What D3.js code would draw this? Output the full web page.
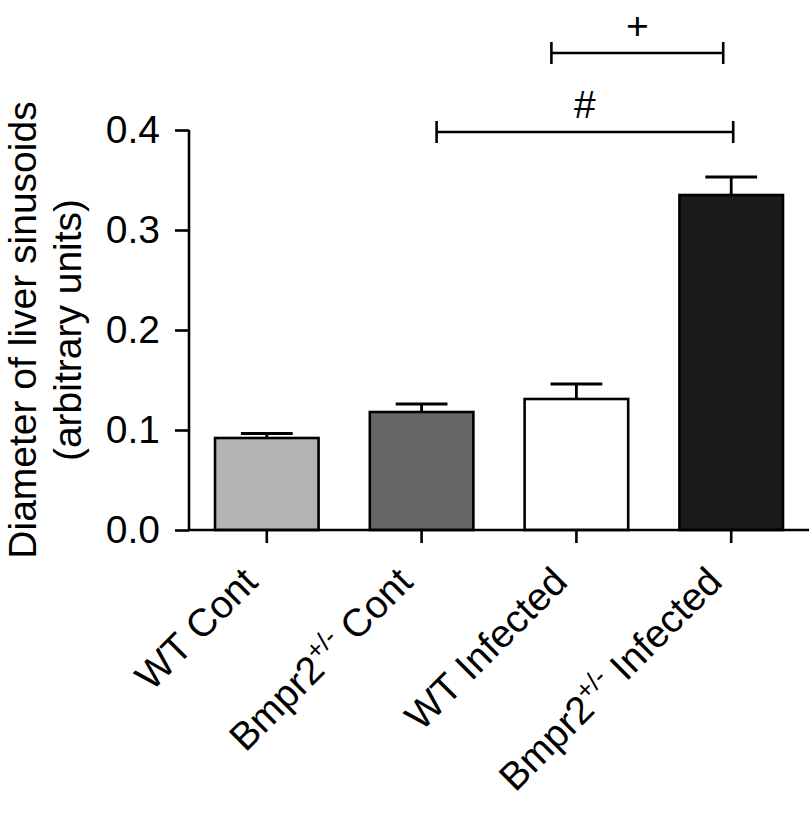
<!DOCTYPE html>
<html>
<head>
<meta charset="utf-8">
<script src="https://cdn.jsdelivr.net/npm/d3@7"></script>
<style>
  html, body { margin: 0; padding: 0; background: #ffffff; }
  svg { display: block; }
  text { font-family: "Liberation Sans", Arial, Helvetica, sans-serif; fill: #000; }
</style>
</head>
<body>
<div id="chart"></div>
<script>
// ---- Data ----
const categories = ["WT Cont", "Bmpr2+/- Cont", "WT Infected", "Bmpr2+/- Infected"];
const means = [0.092, 0.118, 0.131, 0.335];
const errors = [0.0045, 0.008, 0.015, 0.018];
const barColors = ["#b3b3b3", "#676767", "#ffffff", "#1b1b1b"];
const yTicks = [0.0, 0.1, 0.2, 0.3, 0.4];
const yTitleLines = ["Diameter of liver sinusoids", "(arbitrary units)"];
const brackets = [
  { label: "#", from: "Bmpr2+/- Cont", to: "Bmpr2+/- Infected", level: 0.398 },
  { label: "+", from: "WT Infected", to: "Bmpr2+/- Infected", level: 0.477 }
];

// ---- Layout ----
const W = 810, H = 815;
const FONT = 39;
const svg = d3.select("#chart").append("svg").attr("width", W).attr("height", H);
svg.append("rect").attr("width", W).attr("height", H).attr("fill", "#fff");

const x = d3.scaleBand().domain(categories).range([189, 809]).paddingInner(0.331).paddingOuter(0.168);
const y = d3.scaleLinear().domain([0, 0.4]).range([530, 130]);
const bw = x.bandwidth();
const cx = c => x(c) + bw / 2;

// bars
svg.append("g").selectAll("rect").data(categories).join("rect")
  .attr("x", c => x(c))
  .attr("y", (c, i) => y(means[i]))
  .attr("width", bw)
  .attr("height", (c, i) => y(0) - y(means[i]))
  .attr("fill", (c, i) => barColors[i])
  .attr("stroke", "#000")
  .attr("stroke-width", 2.6);

// error bars (upper only)
const eg = svg.append("g").attr("stroke", "#000").attr("stroke-width", 2.8);
categories.forEach((c, i) => {
  const top = y(means[i] + errors[i]);
  eg.append("line").attr("x1", cx(c)).attr("x2", cx(c)).attr("y1", y(means[i])).attr("y2", top);
  eg.append("line").attr("x1", cx(c) - bw / 4).attr("x2", cx(c) + bw / 4).attr("y1", top).attr("y2", top);
});

// y axis
const yAxis = svg.append("g").attr("transform", "translate(189,0)")
  .call(d3.axisLeft(y).tickValues(yTicks).tickFormat(d3.format(".1f")).tickSize(14).tickPadding(15));
yAxis.selectAll("path, line").attr("stroke", "#000").attr("stroke-width", 2.6);
yAxis.select(".domain").attr("d", `M-0,${y(0.4)}V${y(0)}`);
yAxis.selectAll("text").attr("font-size", FONT).attr("font-family", '"Liberation Sans", Arial, sans-serif').attr("fill", "#000");

// x axis
const xAxis = svg.append("g").attr("transform", "translate(0,530)")
  .call(d3.axisBottom(x).tickSize(13).tickFormat(""));
xAxis.selectAll("path, line").attr("stroke", "#000").attr("stroke-width", 2.6);
xAxis.select(".domain").attr("d", `M189,0H809`);

// x labels rotated
const labG = svg.append("g");
categories.forEach(c => {
  const t = labG.append("text")
    .attr("text-anchor", "end")
    .attr("font-size", FONT)
    .attr("transform", `translate(${cx(c) - 7},584) rotate(-45)`);
  const m = c.match(/^(\S+?)(\+\/-)(.*)$/);
  if (m) {
    t.append("tspan").text(m[1]);
    t.append("tspan").attr("font-size", 26).attr("dy", -15).text(m[2]);
    t.append("tspan").attr("dy", 15).text(m[3]);
  } else {
    t.text(c);
  }
});

// y title
const titleX = [36, 81];
yTitleLines.forEach((line, i) => {
  svg.append("text")
    .attr("text-anchor", "middle")
    .attr("font-size", FONT)
    .attr("transform", `translate(${titleX[i]},${(y(0) + y(0.4)) / 2}) rotate(-90)`)
    .text(line);
});

// significance brackets
const bracketOffsets = [[15, 2], [-25, -8]];
const bg = svg.append("g");
brackets.forEach((b, i) => {
  const x1 = cx(b.from) + bracketOffsets[i][0];
  const x2 = cx(b.to) + bracketOffsets[i][1];
  const yy = y(b.level);
  const g = bg.append("g").attr("stroke", "#000").attr("stroke-width", 2.6);
  g.append("line").attr("x1", x1).attr("x2", x2).attr("y1", yy).attr("y2", yy);
  g.append("line").attr("x1", x1).attr("x2", x1).attr("y1", yy - 11).attr("y2", yy + 11);
  g.append("line").attr("x1", x2).attr("x2", x2).attr("y1", yy - 11).attr("y2", yy + 11);
  bg.append("text")
    .attr("text-anchor", "middle")
    .attr("font-size", FONT)
    .attr("x", (x1 + x2) / 2)
    .attr("y", yy - 14)
    .text(b.label);
});
</script>
</body>
</html>
